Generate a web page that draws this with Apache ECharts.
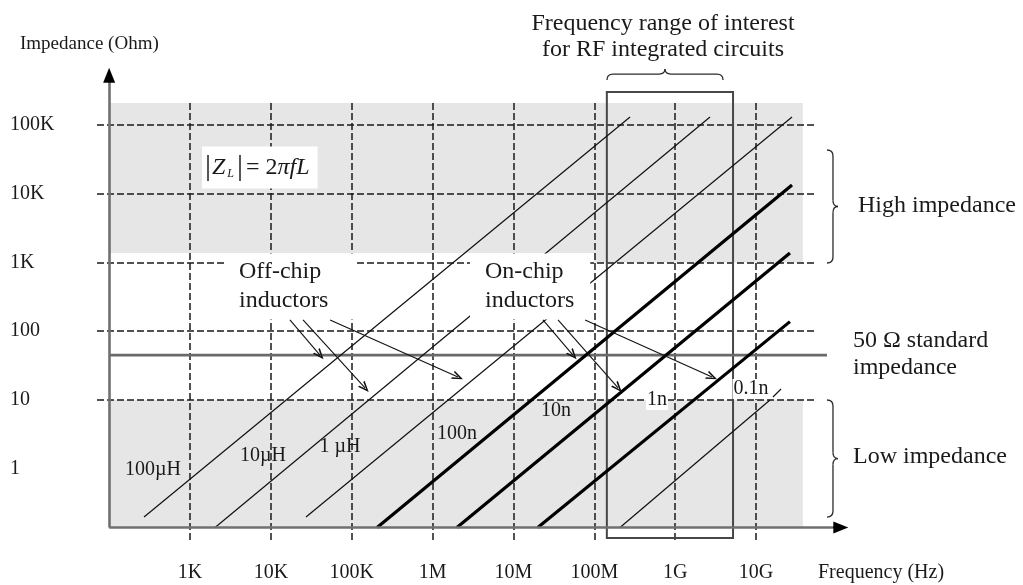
<!DOCTYPE html>
<html>
<head>
<meta charset="utf-8">
<script src="https://cdn.jsdelivr.net/npm/echarts@6/dist/echarts.min.js"></script>
<style>
  html, body { margin: 0; padding: 0; background: #fff; }
  #chart { width: 1023px; height: 585px; }
</style>
</head>
<body>
<div id="chart"></div>
<script>
// ---- Axis decades (Hz and Ohm) ----
const freqTicks = [1e3, 1e4, 1e5, 1e6, 1e7, 1e8, 1e9, 1e10];
const freqTickLabels = ['1K', '10K', '100K', '1M', '10M', '100M', '1G', '10G'];
const impTicks = [1, 10, 100, 1e3, 1e4, 1e5];
const impTickLabels = ['1', '10', '100', '1K', '10K', '100K'];
const impGridLevels = [10, 100, 1e3, 1e4, 1e5];

// ---- |Z| = 2πfL lines: [frequency Hz, impedance Ohm] at each end ----
const inductors = ['100µH', '10µH', '1 µH', '100n', '10n', '1n', '0.1n'];
const lineStart = [[270, 0.199], [2040, 0.14], [2.72e4, 0.199], [2.06e5, 0.14], [2.0e6, 0.14], [2.0e7, 0.14], [2.08e8, 0.14]];
const lineEnd = [[2.77e8, 1.31e5], [2.7e9, 1.31e5], [2.79e10, 1.31e5], [2.79e10, 1.34e4], [2.63e10, 1370], [2.63e10, 138], [1.49e10, 10]];
const inductorLabelAt = [[349, 0.96], [7990, 1.53], [7.16e4, 2.07], [2.0e6, 3.2], [3.36e7, 6.9], [5.97e8, 10], [8.67e9, 14.5]];
const heavyLines = ['100n', '10n', '1n'];
const boxedLabels = ['1n', '0.1n'];

// ---- 50 Ohm reference ----
const standardZ = 45;
const standardSpan = [100, 7.55e10];

// ---- Shaded impedance bands [f1, z1, f2, z2] ----
const highBand = [[100, 1375, 1e8, 2.09e5], [1e8, 1000, 3.8e10, 2.09e5]];
const lowBand = [[100, 0.14, 3.8e10, 10]];

// ---- RF band of interest [f1, z1, f2, z2] ----
const rfBand = [1.43e8, 0.098, 5.2e9, 3.02e5];

// ---- Axes: origin and arrow ends ----
const origin = [100, 0.14];
const freqAxisEnd = 1.12e11;
const impAxisEnd = 5.3e5;

// ---- Grid line spans ----
const gridFreqSpan = [70.8, 5.37e10];
const gridImpSpan = [0.092, 2.09e5];

// ---- Pointer arrows [[from], [to]] ----
const offChipPointers = [[[1.72e4, 146], [4.05e4, 45]], [[2.5e4, 146], [1.46e5, 15]], [[5.4e4, 146], [2.06e6, 21.6]]];
const onChipPointers = [[[2.32e7, 146], [5.45e7, 45]], [[3.56e7, 146], [1.97e8, 15]], [[7.7e7, 146], [2.86e9, 21.6]]];
const leader01n = [[1.62e10, 11.06], [2.04e10, 14.45]];

// ---- Text boxes anchored in data space ----
const offChipAt = [2710, 448];
const onChipAt = [2.9e6, 448];
const formulaAt = [1407, 2.41e4];

// ---- Braces [f1, z1, f2, z2] ----
const braces = [[1.435e8, 4.51e5, 3.91e9, 4.51e5], [7.55e10, 4.33e4, 7.55e10, 983], [7.55e10, 10, 7.55e10, 0.198]];

const FONT = 'Liberation Serif';
const INK = '#1a1a1a';

function tickFormatter(ticks, labels) {
  return function (v) {
    for (let i = 0; i < ticks.length; i++) {
      if (Math.abs(Math.log10(v) - Math.log10(ticks[i])) < 1e-6) return labels[i];
    }
    return '';
  };
}
const seg = (p, q) => [{ coord: p }, { coord: q }];
const chevron = 'path://M0,0 L10,20 L6,20 L0,7 L-6,20 L-10,20 Z';

function renderBrace(params, api) {
  const a = api.coord([api.value(0), api.value(1)]);
  const b = api.coord([api.value(2), api.value(3)]);
  const L = Math.hypot(b[0] - a[0], b[1] - a[1]);
  const u = [(b[0] - a[0]) / L, (b[1] - a[1]) / L];
  const n = [u[1], -u[0]];
  const d = 11, h = 6, r = 6;
  const P = (s, t) => [a[0] + u[0] * s + n[0] * t, a[1] + u[1] * s + n[1] * t];
  const style = { stroke: '#2a2a2a', lineWidth: 1.3, fill: 'none' };
  const quad = (p0, c, p1) => ({ type: 'bezierCurve', shape: { x1: p0[0], y1: p0[1], cpx1: c[0], cpy1: c[1], x2: p1[0], y2: p1[1] }, style });
  const line = (p0, p1) => ({ type: 'line', shape: { x1: p0[0], y1: p0[1], x2: p1[0], y2: p1[1] }, style });
  const m = L / 2;
  return {
    type: 'group',
    children: [
      quad(P(0, 0), P(0, h), P(r, h)),
      line(P(r, h), P(m - r, h)),
      quad(P(m - r, h), P(m, h), P(m, d)),
      quad(P(m, d), P(m, h), P(m + r, h)),
      line(P(m + r, h), P(L - r, h)),
      quad(P(L - r, h), P(L, h), P(L, 0))
    ]
  };
}

const series = [];

// shaded bands
series.push({
  type: 'line', name: 'bands', data: [], silent: true, clip: false,
  markArea: {
    silent: true, z: 1, itemStyle: { color: '#e6e6e6' }, label: { show: false },
    data: highBand.concat(lowBand).map(b => seg([b[0], b[1]], [b[2], b[3]]))
  }
});

// dashed grid
series.push({
  type: 'line', name: 'grid', data: [], silent: true, clip: false,
  markLine: {
    silent: true, z: 2, symbol: ['none', 'none'], label: { show: false },
    lineStyle: { color: '#1a1a1a', width: 1.5, type: [7, 3] },
    data: freqTicks.map(f => seg([f, gridImpSpan[0]], [f, gridImpSpan[1]]))
      .concat(impGridLevels.map(z => seg([gridFreqSpan[0], z], [gridFreqSpan[1], z])))
  }
});

// 50 Ohm standard impedance
series.push({
  type: 'line', name: '50 Ω', data: [[standardSpan[0], standardZ], [standardSpan[1], standardZ]],
  symbol: 'none', silent: true, z: 3, clip: false,
  lineStyle: { color: '#6a6a6a', width: 2.6 }
});

// RF band frame
series.push({
  type: 'line', name: 'rf band', data: [], silent: true, clip: false,
  markArea: {
    silent: true, z: 3, label: { show: false },
    itemStyle: { color: 'rgba(0,0,0,0)', borderColor: '#474747', borderWidth: 2 },
    data: [seg([rfBand[0], rfBand[1]], [rfBand[2], rfBand[3]])]
  }
});

// inductor lines
inductors.forEach((name, i) => {
  const heavy = heavyLines.includes(name);
  series.push({
    type: 'line', name, data: [lineStart[i], lineEnd[i]], symbol: 'none', silent: true, z: 4, clip: false,
    lineStyle: { color: heavy ? '#000' : '#111', width: heavy ? 3.2 : 1.2 }
  });
});
series.push({
  type: 'line', name: 'leader', data: leader01n, symbol: 'none', silent: true, z: 4, clip: false,
  lineStyle: { color: '#111', width: 1.1 }
});

// axis lines and arrow heads
series.push({
  type: 'line', name: 'axes', data: [], silent: true, clip: false,
  markLine: {
    silent: true, z: 5, symbol: ['none', 'none'], label: { show: false },
    lineStyle: { color: '#707070', width: 2.6, type: 'solid' },
    data: [seg(origin, [freqAxisEnd * 0.9, origin[1]]), seg(origin, [origin[0], impAxisEnd * 0.85])]
  }
});
series.push({
  type: 'line', name: 'arrows', data: [], silent: true, clip: false,
  markLine: {
    silent: true, z: 5, symbol: ['none', 'triangle'], symbolSize: [12, 15], label: { show: false },
    lineStyle: { color: '#000', width: 1, type: 'solid' },
    data: [seg([freqAxisEnd * 0.8, origin[1]], [freqAxisEnd, origin[1]]),
           seg([origin[0], impAxisEnd * 0.8], [origin[0], impAxisEnd])]
  }
});

// labels
const labelData = inductors.map((name, i) => ({
  value: inductorLabelAt[i],
  label: boxedLabels.includes(name)
    ? { formatter: name, backgroundColor: '#fff', padding: [0, 1] }
    : { formatter: name }
}));
labelData.push({
  value: offChipAt,
  label: { formatter: 'Off-chip\ninductors', fontSize: 24, lineHeight: 29, align: 'left', backgroundColor: '#fff', padding: [4, 27, 4, 14] }
});
labelData.push({
  value: onChipAt,
  label: { formatter: 'On-chip\ninductors', fontSize: 24, lineHeight: 29, align: 'left', backgroundColor: '#fff', padding: [4, 16, 4, 15] }
});
labelData.push({
  value: formulaAt,
  label: {
    formatter: '{bar||}{it|Z}{sub|L}{bar||}{rm|= 2}{it|πfL}',
    align: 'left', backgroundColor: '#fff', padding: [8, 8, 8, 2], lineHeight: 26,
    rich: {
      bar: { fontSize: 30, fontFamily: FONT, color: INK, lineHeight: 26, padding: [0, 1] },
      it: { fontSize: 24, fontStyle: 'italic', fontFamily: FONT, color: INK, lineHeight: 26 },
      sub: { fontSize: 12, fontStyle: 'italic', fontFamily: FONT, color: INK, padding: [12, 2, 0, 2] },
      rm: { fontSize: 24, fontFamily: FONT, color: INK, lineHeight: 26, padding: [0, 0, 0, 2] }
    }
  }
});
series.push({
  type: 'scatter', name: 'labels', data: labelData, symbolSize: 0, silent: true, z: 6, clip: false,
  itemStyle: { color: 'rgba(0,0,0,0)', opacity: 1 },
  label: { show: true, position: 'inside', fontFamily: FONT, fontSize: 20, color: INK, verticalAlign: 'middle', opacity: 1 }
});

// pointer arrows
series.push({
  type: 'line', name: 'pointers', data: [], silent: true, clip: false,
  markLine: {
    silent: true, z: 7, symbol: ['none', chevron], symbolSize: [9, 11], label: { show: false },
    lineStyle: { color: '#111', width: 1.1, type: 'solid' },
    data: offChipPointers.concat(onChipPointers).map(p => seg(p[0], p[1]))
  }
});

// braces
series.push({
  type: 'custom', name: 'braces', data: braces, renderItem: renderBrace, silent: true, z: 7, clip: false,
  encode: { x: [0, 2], y: [1, 3] }
});

const txt = (text, x, y, size, align) => ({
  type: 'text', x, y, silent: true,
  style: { text, fontFamily: FONT, fontSize: size, fill: INK, align: align, textAlign: align, verticalAlign: 'middle', textVerticalAlign: 'middle' }
});

const option = {
  animation: false,
  backgroundColor: '#fff',
  grid: { left: 80, top: 60, width: 790, height: 490, containLabel: false, outerBoundsMode: 'none' },
  xAxis: {
    type: 'log', logBase: 10,
    min: Math.pow(10, 1.63957), max: Math.pow(10, 11.40992), splitNumber: 10,
    axisLine: { show: false }, axisTick: { show: false }, splitLine: { show: false }, minorSplitLine: { show: false },
    axisLabel: { formatter: tickFormatter(freqTicks, freqTickLabels), fontFamily: FONT, fontSize: 20, color: INK, margin: 13 }
  },
  yAxis: {
    type: 'log', logBase: 10,
    min: Math.pow(10, -1.18182), max: Math.pow(10, 5.94545), splitNumber: 10,
    axisLine: { show: false }, axisTick: { show: false }, splitLine: { show: false }, minorSplitLine: { show: false },
    axisLabel: { formatter: tickFormatter(impTicks, impTickLabels), fontFamily: FONT, fontSize: 20, color: INK, margin: 70, align: 'left' }
  },
  graphic: [
    txt('Impedance (Ohm)', 20, 44, 19, 'left'),
    txt('Frequency (Hz)', 818, 573, 20, 'left'),
    txt('Frequency range of interest', 663, 24, 24, 'center'),
    txt('for RF integrated circuits', 663, 50, 24, 'center'),
    txt('High impedance', 858, 206, 24, 'left'),
    txt('50 Ω standard', 853, 341, 24, 'left'),
    txt('impedance', 853, 368, 24, 'left'),
    txt('Low impedance', 853, 457, 24, 'left')
  ],
  series
};

const chart = echarts.init(document.getElementById('chart'));
chart.setOption(option);
</script>
</body>
</html>
